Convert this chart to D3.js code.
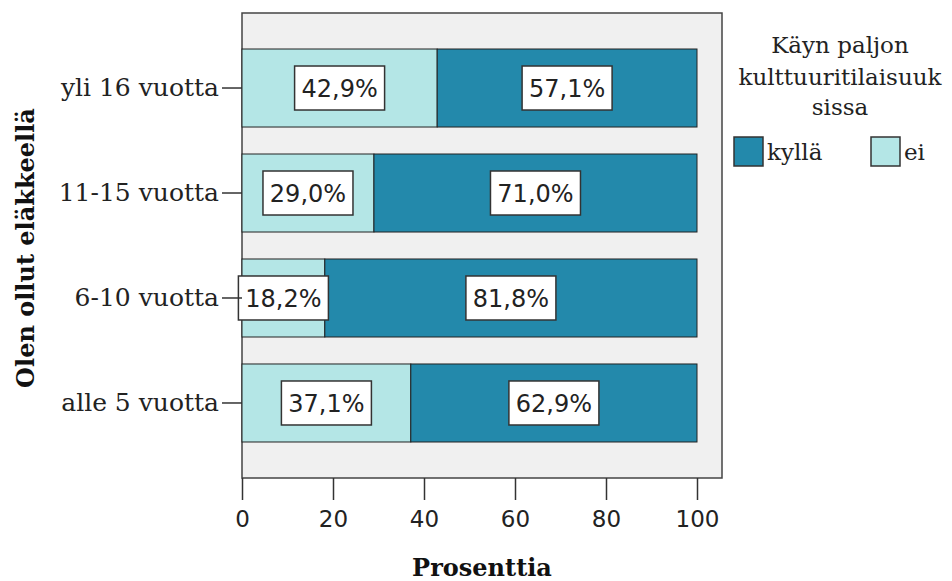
<!DOCTYPE html>
<html>
<head>
<meta charset="utf-8">
<script src="https://cdn.jsdelivr.net/npm/d3@7"></script>
<style>
  body { margin: 0; background: #fff; }
  .serif { font-family: "DejaVu Serif", serif; }
  .sans { font-family: "DejaVu Sans", sans-serif; }
</style>
</head>
<body>
<div id="chart"></div>
<script>
// Data
const categories = ['yli 16 vuotta', '11-15 vuotta', '6-10 vuotta', 'alle 5 vuotta'];
const eiValues = [42.9, 29.0, 18.2, 37.1];
const kyllaValues = [57.1, 71.0, 81.8, 62.9];
const xTicks = [0, 20, 40, 60, 80, 100];
const legendTitle = ['Käyn paljon', 'kulttuuritilaisuuk', 'sissa'];

const width = 952, height = 581;
const frame = {left: 242, top: 13, right: 722, bottom: 478};

const svg = d3.select('#chart').append('svg')
    .attr('width', width)
    .attr('height', height);

const xScale = d3.scaleLinear()
    .domain([0, 100])
    .range([frame.left, 697]);

const yScale = d3.scaleBand()
    .domain(categories)
    .range([frame.top, frame.bottom])
    .paddingInner(0.257)
    .paddingOuter(0.343);

const colors = {kylla: '#2389ab', ei: '#b4e6e6'};

// Plot background
svg.append('rect')
    .attr('x', frame.left)
    .attr('y', frame.top)
    .attr('width', frame.right - frame.left)
    .attr('height', frame.bottom - frame.top)
    .attr('fill', '#f0f0f0')
    .attr('stroke', '#444')
    .attr('stroke-width', 1.5);

// Build stacked segments
const segments = [];
categories.forEach((c, i) => {
    segments.push({cat: c, key: 'ei', x0: 0, x1: eiValues[i], value: eiValues[i]});
    segments.push({cat: c, key: 'kylla', x0: eiValues[i], x1: eiValues[i] + kyllaValues[i], value: kyllaValues[i]});
});

svg.selectAll('rect.seg')
    .data(segments)
    .enter()
    .append('rect')
        .attr('class', 'seg')
        .attr('x', d => xScale(d.x0))
        .attr('y', d => yScale(d.cat))
        .attr('width', d => xScale(d.x1) - xScale(d.x0))
        .attr('height', yScale.bandwidth())
        .attr('fill', d => colors[d.key])
        .attr('stroke', '#222')
        .attr('stroke-width', 1);

// Value labels with white boxes
const fmt = v => v.toFixed(1).replace('.', ',') + '%';
const labels = svg.selectAll('g.lab')
    .data(segments)
    .enter()
    .append('g')
        .attr('class', 'lab')
        .attr('transform', d => `translate(${(xScale(d.x0) + xScale(d.x1)) / 2},${yScale(d.cat) + yScale.bandwidth() / 2})`);

labels.append('rect')
    .attr('x', -45)
    .attr('y', -22)
    .attr('width', 90)
    .attr('height', 44)
    .attr('fill', '#fff')
    .attr('stroke', '#333')
    .attr('stroke-width', 1.5);

labels.append('text')
    .attr('class', 'sans')
    .attr('text-anchor', 'middle')
    .attr('dy', '0.36em')
    .style('font-size', '24px')
    .attr('fill', '#222')
    .text(d => fmt(d.value));

// X axis
const xAxis = d3.axisBottom(xScale).tickValues(xTicks).tickSize(22).tickPadding(11);
const xAxisGroup = svg.append('g')
    .attr('transform', `translate(0,${frame.bottom})`)
    .call(xAxis);
xAxisGroup.select('.domain').remove();
xAxisGroup.selectAll('line').attr('stroke', '#333').attr('stroke-width', 1.5);
xAxisGroup.selectAll('text')
    .attr('class', 'sans')
    .style('font-size', '23px')
    .attr('fill', '#222');

// Y axis
const yAxis = d3.axisLeft(yScale).tickSize(20).tickPadding(3);
const yAxisGroup = svg.append('g')
    .attr('transform', `translate(${frame.left},0)`)
    .call(yAxis);
yAxisGroup.select('.domain').remove();
yAxisGroup.selectAll('line').attr('stroke', '#333').attr('stroke-width', 1.5);
yAxisGroup.selectAll('text')
    .attr('class', 'serif')
    .style('font-size', '25px')
    .attr('fill', '#222');

// Axis titles
svg.append('text')
    .attr('class', 'serif')
    .attr('x', 482)
    .attr('y', 576)
    .attr('text-anchor', 'middle')
    .style('font-size', '24px')
    .style('font-weight', 'bold')
    .attr('fill', '#111')
    .text('Prosenttia');

svg.append('text')
    .attr('class', 'serif')
    .attr('transform', 'translate(34,248) rotate(-90)')
    .attr('text-anchor', 'middle')
    .style('font-size', '24px')
    .style('font-weight', 'bold')
    .attr('fill', '#111')
    .text('Olen ollut eläkkeellä');

// Legend
svg.selectAll('text.ltitle')
    .data(legendTitle)
    .enter()
    .append('text')
        .attr('class', 'serif ltitle')
        .attr('x', 840)
        .attr('y', (d, i) => [53, 85, 115][i])
        .attr('text-anchor', 'middle')
        .style('font-size', '23px')
        .attr('fill', '#222')
        .text(d => d);

const legendItems = [
    {label: 'kyllä', color: colors.kylla, x: 734},
    {label: 'ei', color: colors.ei, x: 871}
];
const lg = svg.selectAll('g.leg')
    .data(legendItems)
    .enter()
    .append('g')
        .attr('class', 'leg')
        .attr('transform', d => `translate(${d.x},137)`);
lg.append('rect')
    .attr('width', 29)
    .attr('height', 29)
    .attr('fill', d => d.color)
    .attr('stroke', '#333')
    .attr('stroke-width', 1.5);
lg.append('text')
    .attr('class', 'serif')
    .attr('x', 33)
    .attr('y', 23)
    .style('font-size', '23px')
    .attr('fill', '#222')
    .text(d => d.label);
</script>
</body>
</html>
